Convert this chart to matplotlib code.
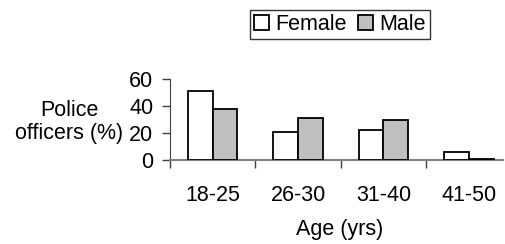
import numpy as np
import matplotlib
matplotlib.use('Agg')
import matplotlib.pyplot as plt

plt.rcParams['font.family'] = ['Liberation Sans', 'DejaVu Sans']

# data
age_groups = ['18-25', '26-30', '31-40', '41-50']
female = [51, 21, 22, 6]
male = [38, 31, 30, 1]

W, H = 506, 244
fig = plt.figure(figsize=(W / 100, H / 100), dpi=100)
ax = fig.add_axes([170 / W, 1 - 160 / H, (503 - 170) / W, 81 / H])

x = np.arange(len(age_groups))
bw = 0.29
ax.bar(x - bw / 2, female, bw, color='white', edgecolor='black', linewidth=1.3, label='Female', zorder=3)
ax.bar(x + bw / 2, male, bw, color='#c0c0c0', edgecolor='black', linewidth=1.3, label='Male', zorder=3)

ax.set_xlim(-0.5, 3.4)
ax.set_ylim(0, 60)
ax.set_yticks([0, 20, 40, 60])
ax.tick_params(axis='y', labelsize=15.5, length=6, width=1, color='#404040', pad=6)
ax.set_xticks(x)
ax.set_xticklabels(age_groups)
ax.set_xticks(np.arange(-0.5, 3.5, 1), minor=True)
ax.tick_params(axis='x', which='major', length=0, labelsize=15.5, pad=18)
ax.tick_params(axis='x', which='minor', length=6, width=1, color='#404040')

for s in ['top', 'right']:
    ax.spines[s].set_visible(False)
ax.spines['left'].set_color('#404040')
ax.spines['bottom'].set_color('#808080')
ax.spines['bottom'].set_linewidth(1.5)

fig.text(69 / W, 1 - 122 / H, 'Police\nofficers (%)', ha='center', va='center',
         fontsize=15.5, multialignment='center', linespacing=1.15)
fig.text(340 / W, 1 - 230 / H, 'Age (yrs)', ha='center', va='center', fontsize=15.5)

leg = fig.legend(loc='center', bbox_to_anchor=(340 / W, 1 - 24.5 / H), ncol=2,
                 fontsize=15.5, frameon=True, fancybox=False, handlelength=0.7,
                 handleheight=0.7, handletextpad=0.3, columnspacing=0.5,
                 borderpad=0.2, borderaxespad=0)
leg.get_frame().set_edgecolor('black')
leg.get_frame().set_linewidth(1)

fig.savefig('out.png', dpi=100)
